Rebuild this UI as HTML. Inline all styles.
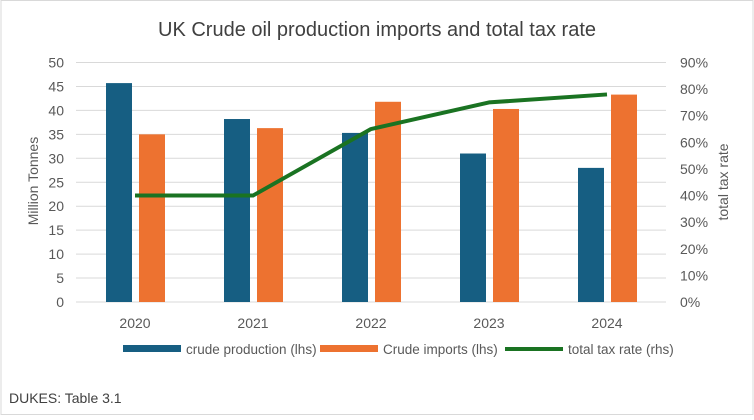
<!DOCTYPE html>
<html><head><meta charset="utf-8"><style>
body{margin:0;background:#fff;font-family:"Liberation Sans",sans-serif;}
#c{position:relative;width:754px;height:415px;}
</style></head><body>
<div id="c">
<svg id="s" width="754" height="415" xmlns="http://www.w3.org/2000/svg">
<rect x="1" y="0.5" width="752" height="414" fill="#fff" stroke="#d9d9d9"/>
<text x="377" y="36" text-anchor="middle" font-size="20" fill="#404040">UK Crude oil production imports and total tax rate</text>
<text transform="translate(38,181) rotate(-90)" text-anchor="middle" font-size="14" fill="#595959">Million Tonnes</text>
<text transform="translate(728,182) rotate(-90)" text-anchor="middle" font-size="14" fill="#595959">total tax rate</text>
<g id="grid"></g><g id="bars"></g><g id="line"></g><g id="labels"></g>
<g>
<rect x="123" y="345" width="58" height="7" fill="#165e82"/>
<text x="186" y="354" font-size="13.5" fill="#595959">crude production (lhs)</text>
<rect x="320" y="345" width="58" height="7" fill="#ed7230"/>
<text x="383" y="354" font-size="13.5" fill="#595959">Crude imports (lhs)</text>
<line x1="505" y1="349" x2="563" y2="349" stroke="#1a7322" stroke-width="4"/>
<text x="568" y="354" font-size="13.5" fill="#595959">total tax rate (rhs)</text>
</g>
<text x="9" y="403" font-size="14" fill="#404040">DUKES: Table 3.1</text>
</svg></div>
<script>
const categories=["2020","2021","2022","2023","2024"];
const production=[45.7,38.2,35.3,31,28];
const imports=[35,36.3,41.8,40.3,43.3];
const taxRate=[40,40,65,75,78];
const leftTicks=[0,5,10,15,20,25,30,35,40,45,50];
const rightTicks=[0,10,20,30,40,50,60,70,80,90];
const NS="http://www.w3.org/2000/svg";
const X0=76,X1=666,Y0=302,Y1=62.5;
const yL=v=>Y0-(v/50)*(Y0-Y1);
const yR=v=>Y0-(v/90)*(Y0-Y1);
const band=(X1-X0)/categories.length;
const xc=i=>X0+band*(i+0.5);
function mk(t,a,p){const e=document.createElementNS(NS,t);for(const k in a)e.setAttribute(k,a[k]);p.appendChild(e);return e;}
const g=document.getElementById('grid'),b=document.getElementById('bars'),l=document.getElementById('line'),lb=document.getElementById('labels');
leftTicks.forEach(v=>{const ln=mk('line',{x1:X0,x2:X1,y1:yL(v),y2:yL(v),stroke:'#d9d9d9','stroke-width':1},g);


const t=mk('text',{x:64,y:yL(v)+5,'text-anchor':'end','font-size':14,fill:'#595959'},lb);t.textContent=v;

});
rightTicks.forEach(v=>{const t=mk('text',{x:680,y:yR(v)+5,'font-size':14,fill:'#595959'},lb);t.textContent=v+'%';

});
categories.forEach((c,i)=>{
const r1=mk('rect',{x:xc(i)-29,y:yL(production[i]),width:26,height:Y0-yL(production[i]),fill:'#165e82'},b);


const r2=mk('rect',{x:xc(i)+4,y:yL(imports[i]),width:26,height:Y0-yL(imports[i]),fill:'#ed7230'},b);


const t=mk('text',{x:xc(i),y:328,'text-anchor':'middle','font-size':14,fill:'#595959'},lb);t.textContent=c;

});
const pts=taxRate.map((v,i)=>xc(i)+','+yR(v)).join(' ');
const pl=mk('polyline',{points:pts,fill:'none',stroke:'#1a7322','stroke-width':4,'stroke-linejoin':'round'},l);


</script>
</body></html>
